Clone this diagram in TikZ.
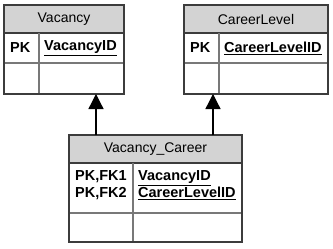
\documentclass[tikz,border=0pt]{standalone}
\usepackage{fontspec}
\setmainfont{Liberation Sans}
\usetikzlibrary{arrows.meta}
\definecolor{hdr}{RGB}{211,211,211}
\definecolor{edge}{RGB}{60,60,60}
\definecolor{inner}{RGB}{120,120,120}
\tikzset{
  x=1pt,y=-1pt,
  hdrbox/.style={draw=edge,fill=hdr,line width=1.1pt},
  cellbox/.style={draw=edge,fill=white,line width=1.1pt},
  divline/.style={draw=inner,line width=1.1pt},
  hdrtext/.style={font=\fontsize{14}{16}\selectfont,inner sep=0pt},
  keytext/.style={font=\fontsize{14.5}{16.5}\selectfont\bfseries,inner sep=0pt,anchor=west,align=left},
  rel/.style={draw=black,line width=1.3pt,-{Triangle[length=15pt,width=15pt]}}
}
\begin{document}
\begin{tikzpicture}
\useasboundingbox (0,0) rectangle (333,249);
\fill[white] (0,0) rectangle (333,249);
% Vacancy
\coordinate (vtl) at (4,5);
\coordinate (vbr) at (124,94);
\draw[cellbox] (vtl) rectangle (vbr);
\draw[hdrbox] (4,5) rectangle (124,33);
\draw[divline] (4,63) -- (124,63);
\draw[divline] (39,33) -- (39,94);
\draw[edge,line width=1.1pt] (vtl) rectangle (vbr);
\node[hdrtext] (vname) at (64,19.5) {Vacancy};
\node[keytext] (vpk) at (10,48) {PK};
\node[keytext] (vid) at (44,48) {\underline{VacancyID}};
\coordinate (vbot) at (96,94);
% CareerLevel
\coordinate (ctl) at (184,5);
\coordinate (cbr) at (328,94);
\draw[cellbox] (ctl) rectangle (cbr);
\draw[hdrbox] (184,5) rectangle (328,33);
\draw[divline] (184,63) -- (328,63);
\draw[divline] (219,33) -- (219,94);
\draw[edge,line width=1.1pt] (ctl) rectangle (cbr);
\node[hdrtext] (cname) at (256,19.5) {CareerLevel};
\node[keytext] (cpk) at (190,48) {PK};
\node[keytext] (cid) at (224,48) {\underline{CareerLevelID}};
\coordinate (cbot) at (213,94);
% Vacancy_Career
\coordinate (jtl) at (69,135);
\coordinate (jbr) at (242,242);
\draw[cellbox] (jtl) rectangle (jbr);
\draw[hdrbox] (69,135) rectangle (242,163);
\draw[divline] (69,213) -- (242,213);
\draw[divline] (133,163) -- (133,242);
\draw[edge,line width=1.1pt] (jtl) rectangle (jbr);
\node[hdrtext] (jname) at (155.5,149.5) {Vacancy\_Career};
\node[keytext] (jpk) at (75,185) {PK,FK1\\PK,FK2};
\node[keytext] (jid) at (138,185) {\underline{VacancyID}\\\underline{CareerLevelID}};
\coordinate (jtop1) at (96,135);
\coordinate (jtop2) at (213,135);
% relations
\draw[rel] (jtop1) -- (vbot);
\draw[rel] (jtop2) -- (cbot);
\end{tikzpicture}
\end{document}
